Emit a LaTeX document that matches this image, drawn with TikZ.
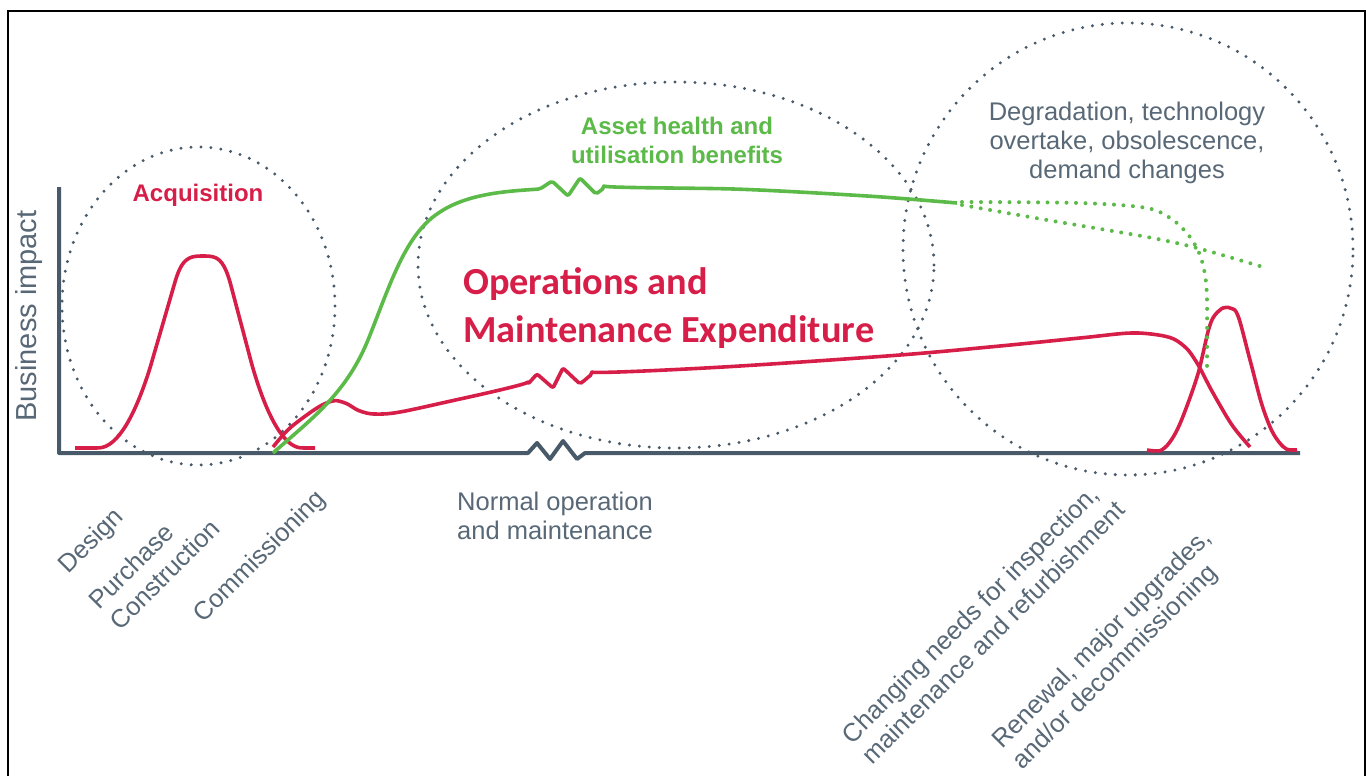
\documentclass[tikz,border=0pt]{standalone}
\usepackage{fontspec}
\setmainfont{Liberation Sans}
\newfontfamily\carlito{Carlito}
\usetikzlibrary{positioning}
\definecolor{costred}{RGB}{214,30,72}
\definecolor{gaingreen}{RGB}{92,186,72}
\definecolor{slate}{RGB}{72,90,105}
\definecolor{slatetext}{RGB}{88,104,118}

\begin{document}
\begin{tikzpicture}[x=1bp, y=-1bp,
        zone/.style={draw=slate, line width=3.3bp, line cap=round, dash pattern=on 0bp off 10bp},
        cost/.style={draw=costred, line width=3.6bp, line join=round, rounded corners=2bp},
        gain/.style={draw=gaingreen, line width=3.6bp, line join=round, rounded corners=2bp},
        fade/.style={draw=gaingreen, line width=4bp, line cap=round, dash pattern=on 0bp off 9.5bp},
        axisline/.style={draw=slate, line width=4bp, line join=round},
        lbl/.style={text=slatetext, font=\fontsize{25.5bp}{29bp}\selectfont, inner sep=0pt, align=center},
        phase/.style={lbl, rotate=45, align=left}
    ]
        \useasboundingbox (0,0) rectangle (1366,775);
        \draw[line width=2bp] (8,778) -- (8,11) -- (1365,11) -- (1365,778);

        % life-cycle zones
        \draw[zone] (198.5,306) ellipse [x radius=136.5bp, y radius=159bp];
        \draw[zone] (676,265) ellipse [x radius=258bp, y radius=183bp];
        \draw[zone] (1128,249) ellipse [x radius=225bp, y radius=226bp];

        % axes with the time break
        \draw[axisline] (59,187) -- (59,453) -- (528,453) -- (537,443) -- (550,459)
            -- (563,441) -- (577,459) -- (585,453) -- (1300,453);

        % expenditure
        \draw[cost] (75,448) -- (97,448) .. controls (118,447) and (135,415) .. (150,368) -- (175,282)
            .. controls (182,259) and (189,256) .. (203,256) .. controls (217,256) and (223,259) .. (230,282)
            -- (252,365) .. controls (268,420) and (285,447) .. (303,448) -- (315,448);
        \draw[cost] plot[smooth, tension=0.5] coordinates {(273,447) (290,428) (317,408) (333,401)
            (345,403) (360,411) (375,414) (400,412) (460,399) (528,384)}
            -- (537,374) -- (553,388) -- (563,368) -- (580,384) -- (592,374)
            -- plot[smooth, tension=0.5] coordinates {(592,374) (740,366) (900,355) (1000,346) (1080,338)
            (1133,333) (1168,337) (1185,347) (1197,363) (1213,393) (1232,425) (1250,447)};
        \draw[cost] plot[smooth, tension=0.5] coordinates {(1147,450) (1163,449) (1178,428) (1197,377)
            (1210,325) (1220,310) (1230,308) (1238,316) (1250,360) (1262,405) (1273,433) (1285,448) (1297,450)};

        % benefits
        \draw[gain] (273,453) .. controls (310,420) and (345,395) .. (368,340)
            .. controls (390,285) and (405,235) .. (440,212) .. controls (470,193) and (510,191) .. (540,189)
            -- (552,181) -- (568,196) -- (580,178) -- (596,194) -- (604,188)
            -- plot[smooth, tension=0.5] coordinates {(604,188) (733,189) (867,196) (957,203)};
        \draw[fade] plot[smooth, tension=0.5] coordinates {(962,202) (1080,203) (1147,208) (1173,220)
            (1190,237) (1200,255) (1205,275) (1207,300) (1207,370)};
        \draw[fade] plot[smooth, tension=0.5] coordinates {(962,205) (1047,220) (1147,237) (1197,248) (1263,267)};

        \node[lbl, rotate=90, font=\fontsize{29bp}{34bp}\selectfont] (impact) at (29,316) {Business impact};
        \node[text=costred, font=\bfseries\fontsize{24bp}{29bp}\selectfont, inner sep=0pt] (acq) at (198,195) {Acquisition};
        \node[text=gaingreen, font=\bfseries\fontsize{24bp}{29bp}\selectfont, inner sep=0pt, align=center] (health) at (677,140) {Asset health and\\utilisation benefits};
        \node[text=costred, font=\carlito\bfseries\fontsize{38.3bp}{48bp}\selectfont, align=left, anchor=west, inner sep=0pt] (opex) at (463,308) {Operations and\\Maintenance Expenditure};
        \node[lbl] (degrade) at (1127,143) {Degradation, technology\\overtake, obsolescence,\\demand changes};
        \node[lbl, align=left] (normal) at (555,516) {Normal operation\\and maintenance};

        \node[phase] (design) at (92,542) {Design};
        \node[phase] (build) at (154,564) {Purchase\\Construction};
        \node[phase] (commission) at (260,557) {Commissioning};
        \node[phase] (changing) at (983,622) {Changing needs for inspection,\\maintenance and refurbishment};
        \node[phase] (renewal) at (1113,650) {Renewal, major upgrades,\\and/or decommissioning};
\end{tikzpicture}
\end{document}
